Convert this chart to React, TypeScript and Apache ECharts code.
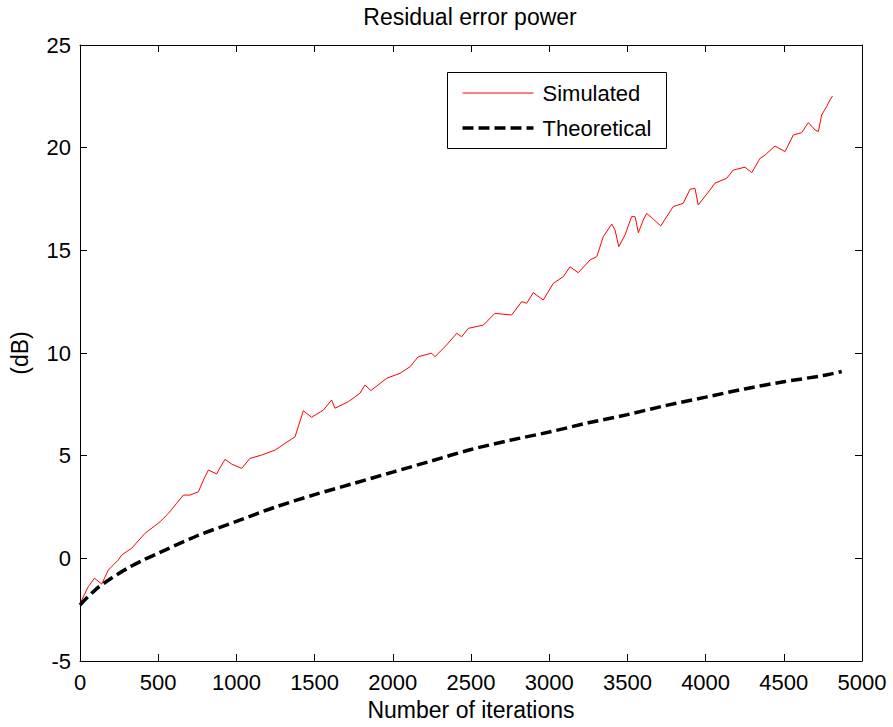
import React, { useEffect, useRef } from "react";
import * as echarts from "echarts";

const FONT = '"Liberation Sans", Arial, Helvetica, sans-serif';

const titleText = "Residual error power";
const xName = "Number of iterations";
const yName = "(dB)";
const legendNames = ["Simulated", "Theoretical"];

const xMin = 0;
const xMax = 5000;
const xStep = 500;
const yMin = -5;
const yMax = 25;
const yStep = 5;

// Simulated residual error power
const simIter = [
  0, 53, 92, 139, 181, 245, 266, 330, 416, 512, 565, 618, 661, 703, 757, 789, 821, 874, 889, 927,
  970, 1034, 1087, 1162, 1247, 1311, 1375, 1428, 1481, 1556, 1609, 1630, 1716, 1790, 1822, 1860,
  1961, 2046, 2110, 2163, 2248, 2270, 2344, 2409, 2440, 2483, 2579, 2653, 2760, 2824, 2856, 2898,
  2962, 3026, 3090, 3133, 3186, 3261, 3304, 3346, 3400, 3421, 3445, 3485, 3527, 3549, 3570, 3602,
  3623, 3666, 3713, 3793, 3857, 3900, 3932, 3953, 4028, 4060, 4135, 4177, 4252, 4295, 4348, 4380,
  4444, 4508, 4561, 4614, 4657, 4700, 4721, 4742, 4774, 4795, 4812,
];
const simDb = [
  -2.2, -1.38, -0.97, -1.25, -0.57, -0.08, 0.16, 0.49, 1.22, 1.78, 2.19, 2.68, 3.08, 3.08, 3.24,
  3.81, 4.3, 4.11, 4.33, 4.82, 4.59, 4.38, 4.87, 5.03, 5.27, 5.6, 5.92, 7.19, 6.87, 7.22, 7.71,
  7.31, 7.63, 8.04, 8.44, 8.17, 8.77, 9.01, 9.33, 9.82, 9.99, 9.82, 10.39, 10.96, 10.79, 11.2,
  11.36, 11.93, 11.85, 12.5, 12.42, 12.94, 12.58, 13.39, 13.72, 14.2, 13.91, 14.53, 14.69, 15.67,
  16.28, 15.99, 15.18, 15.75, 16.64, 16.64, 15.86, 16.48, 16.8, 16.52, 16.19, 17.13, 17.29, 17.97,
  18.02, 17.21, 17.94, 18.27, 18.51, 18.91, 19.05, 18.78, 19.48, 19.64, 20.08, 19.81, 20.62, 20.73,
  21.22, 20.86, 20.78, 21.59, 22.0, 22.32, 22.52,
];

// Theoretical residual error power
const theoIter = [
  0, 100, 200, 300, 400, 500, 750, 1000, 1250, 1500, 1750, 2000, 2250, 2500, 2750, 3000, 3250,
  3500, 3750, 4000, 4250, 4500, 4750, 4870,
];
const theoDb = [
  -2.27, -1.52, -0.97, -0.5, -0.1, 0.25, 1.1, 1.8, 2.5, 3.1, 3.65, 4.2, 4.75, 5.3, 5.75, 6.15, 6.6,
  7.0, 7.45, 7.85, 8.25, 8.6, 8.9, 9.1,
];

export default function App() {
  const ref = useRef<HTMLDivElement>(null);

  useEffect(() => {
    if (!ref.current) return;
    const chart = echarts.init(ref.current, undefined, { renderer: "svg" });

    const sim = simIter.map((x, i) => [x, simDb[i]]);
    const theo = theoIter.map((x, i) => [x, theoDb[i]]);

    const axisLine = { show: true, onZero: false, lineStyle: { color: "#000", width: 1 } };
    const axisTick = { show: true, inside: true, length: 7, lineStyle: { color: "#000", width: 1 } };
    const labelStyle = { color: "#000", fontSize: 22, fontFamily: FONT };
    const nameStyle = { color: "#000", fontSize: 23, fontFamily: FONT };
    const plain = (v: number) => String(v);

    // legend box geometry
    const lgX = 447;
    const lgY = 72;
    const lgW = 219;
    const lgH = 76;

    chart.setOption({
      animation: false,
      backgroundColor: "#fff",
      title: {
        text: titleText,
        left: 470,
        top: 5,
        padding: 0,
        textAlign: "center",
        textStyle: { color: "#000", fontSize: 23, fontWeight: "normal", fontFamily: FONT },
      },
      grid: { left: 80, right: 31, top: 45, bottom: 66, containLabel: false },
      xAxis: [
        {
          type: "value",
          position: "bottom",
          min: xMin,
          max: xMax,
          interval: xStep,
          axisLine,
          axisTick,
          axisLabel: { ...labelStyle, margin: 10, formatter: plain },
          splitLine: { show: false },
          name: xName,
          nameLocation: "middle",
          nameGap: 37,
          nameTextStyle: { ...nameStyle },
        },
        {
          type: "value",
          position: "top",
          min: xMin,
          max: xMax,
          interval: xStep,
          axisLine,
          axisTick,
          axisLabel: { show: false },
          splitLine: { show: false },
        },
      ],
      yAxis: [
        {
          type: "value",
          position: "left",
          min: yMin,
          max: yMax,
          interval: yStep,
          axisLine,
          axisTick,
          axisLabel: { ...labelStyle, margin: 9, formatter: plain },
          splitLine: { show: false },
          name: yName,
          nameLocation: "middle",
          nameRotate: 90,
          nameGap: 49,
          nameTextStyle: { ...nameStyle },
        },
        {
          type: "value",
          position: "right",
          min: yMin,
          max: yMax,
          interval: yStep,
          axisLine,
          axisTick,
          axisLabel: { show: false },
          splitLine: { show: false },
        },
      ],
      graphic: [
        {
          type: "group",
          left: lgX,
          top: lgY,
          z: 100,
          children: [
            {
              type: "rect",
              shape: { x: 0, y: 0, width: lgW, height: lgH },
              style: { fill: "#fff", stroke: "#000", lineWidth: 1 },
            },
            {
              type: "line",
              shape: { x1: 15, y1: 20.5, x2: 86, y2: 20.5 },
              style: { stroke: "#ff0000", lineWidth: 1 },
            },
            {
              type: "text",
              x: 95,
              y: 20.5,
              style: {
                text: legendNames[0],
                fill: "#000",
                font: `22px ${FONT}`,
                textVerticalAlign: "middle",
                verticalAlign: "middle",
              },
            },
            {
              type: "line",
              shape: { x1: 15, y1: 55.5, x2: 86, y2: 55.5 },
              style: { stroke: "#000", lineWidth: 3.5, lineDash: [11, 5] },
            },
            {
              type: "text",
              x: 95,
              y: 55.5,
              style: {
                text: legendNames[1],
                fill: "#000",
                font: `22px ${FONT}`,
                textVerticalAlign: "middle",
                verticalAlign: "middle",
              },
            },
          ],
        },
      ],
      series: [
        {
          type: "line",
          name: legendNames[0],
          data: sim,
          xAxisIndex: 0,
          yAxisIndex: 0,
          symbol: "none",
          showSymbol: false,
          lineStyle: { color: "#ff0000", width: 1 },
          itemStyle: { color: "#ff0000" },
        },
        {
          type: "line",
          name: legendNames[1],
          data: theo,
          xAxisIndex: 0,
          yAxisIndex: 0,
          symbol: "none",
          showSymbol: false,
          smooth: 0.3,
          lineStyle: { color: "#000", width: 3.5, type: [11, 5] },
          itemStyle: { color: "#000" },
        },
      ],
    });

    return () => chart.dispose();
  }, []);

  return (
    <div
      ref={ref}
      style={{ position: "fixed", left: 0, top: 0, width: 893, height: 727, background: "#fff" }}
    />
  );
}
